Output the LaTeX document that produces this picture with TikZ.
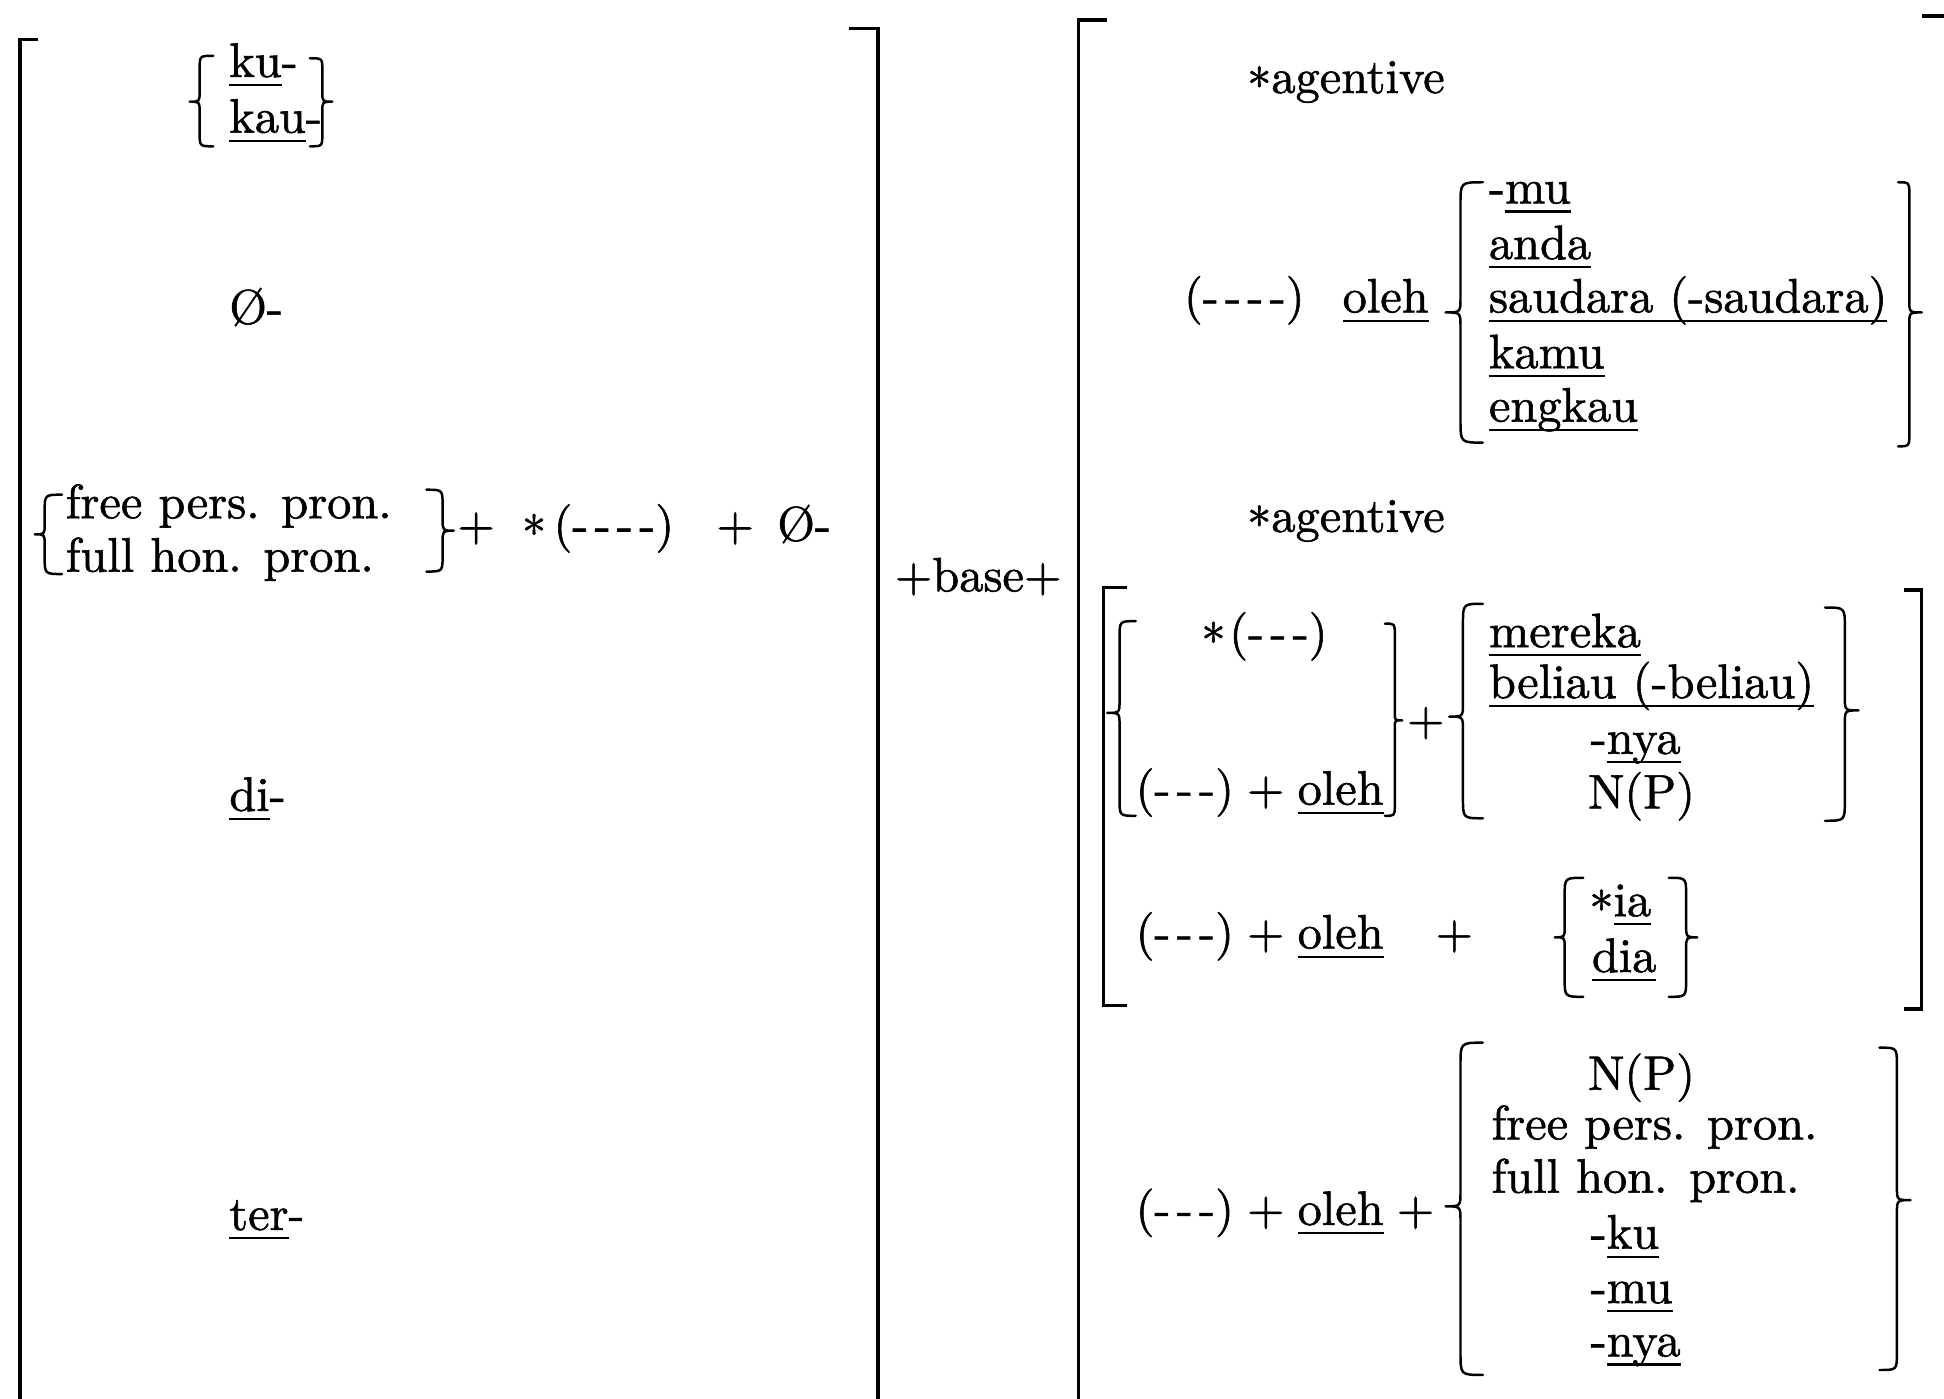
\documentclass[tikz,border=0pt]{standalone}
% Latin Modern at its 10pt design, scaled up and thickened a little like typewriter print
\font\dfont="[lmroman10-regular]:mapping=tex-text;embolden=1.2" at 39pt
\tikzset{
  every node/.style={inner sep=0pt, outer sep=0pt, font=\dfont},
  txt/.style={anchor=base west},
  ctr/.style={anchor=base},
  bar/.style={line width=2.8pt, line cap=butt, line join=miter},
  brc/.style={line width=2pt, line cap=round, line join=round},
}
% underline sitting just below the baseline, crossing descenders
\newcommand\undl[1]{\setbox0\hbox{#1}\rlap{\rule[-0.19em]{\wd0}{1.7pt}}\box0}
% a spaced hyphen for the (----) blanks
\newcommand\hy{-\kern5pt}
% the typewriter asterisk sits lower than the book one
\newcommand\astk{\raisebox{-0.2em}{*}}
% plus sign with tight spacing
\newcommand\pls{\hspace{0.27em}+\hspace{0.27em}}
% left curly brace: x of stem, top y, bottom y, tip y, hook size, tip depth
\newcommand\bracel[6]{%
  \draw[brc] ({#1+#5},#2) .. controls (#1,#2) .. (#1,{#2+#5})
    -- (#1,{#4-#6}) .. controls (#1,#4) .. ({#1-#6},#4)
    .. controls (#1,#4) .. (#1,{#4+#6})
    -- (#1,{#3-#5}) .. controls (#1,#3) .. ({#1+#5},#3);}
% right curly brace, same arguments
\newcommand\bracer[6]{%
  \draw[brc] ({#1-#5},#2) .. controls (#1,#2) .. (#1,{#2+#5})
    -- (#1,{#4-#6}) .. controls (#1,#4) .. ({#1+#6},#4)
    .. controls (#1,#4) .. (#1,{#4+#6})
    -- (#1,{#3-#5}) .. controls (#1,#3) .. ({#1-#5},#3);}
\begin{document}
\begin{tikzpicture}[x=1pt, y=-1pt]
\fill[white] (0,0) rectangle (1568,1128);
\useasboundingbox (0,0) rectangle (1568,1128);

% ---------- prefix column ----------
\draw[bar] (31,32) -- (16,32) -- (16,1140);
\draw[bar] (685,23) -- (708,23) -- (708,1140);

\bracel{161}{45}{118}{82}{11}{8}
\node[txt] (ku) at (185,62) {\undl{ku}-};
\node[txt] (kau) at (185,107) {\undl{kau}-};
\bracer{260}{47}{118}{82}{10}{8}

\node[txt] (zeroA) at (185,261) {Ø-};

\bracel{36}{399}{463}{431}{14}{8}
\node[txt] (fppA) at (53,418) {free pers.\hspace{0.45em}pron.};
\node[txt] (fhpA) at (53,461) {full hon.\hspace{0.45em}pron.};
\bracer{357}{395}{461}{428}{13}{9}
\node[ctr] (plA) at (384,436) {+};
\node[txt] (blankA) at (421,436) {\astk\kern6pt(\hy\hy\hy-)};
\node[ctr] (plB) at (593,436) {+};
\node[txt] (zeroB) at (627,436) {Ø-};

\node[txt] (di) at (185,654) {\undl{di}-};
\node[txt] (ter) at (185,992) {\undl{ter}-};

% ---------- base ----------
\node[ctr] (base) at (789,477) {+base+};

% ---------- agentive column ----------
\draw[bar] (893,16) -- (870,16) -- (870,1140);
\draw[bar] (1550,13) -- (1580,13) -- (1580,1140);

\node[txt] (agA) at (1006,75) {\astk agentive};
\node[txt] (blankB) at (955,252) {(\hy\hy\hy-)};
\node[txt] (olehA) at (1083,252) {\undl{oleh}};
\bracel{1178}{147}{357}{252}{18}{12}
\node[txt] (mu) at (1201,164) {-\undl{mu}};
\node[txt] (anda) at (1201,209) {\undl{anda}};
\node[txt] (saudara) at (1201,252) {\undl{saudara (-saudara)}};
\node[txt] (kamu) at (1201,297) {\undl{kamu}};
\node[txt] (engkau) at (1201,340) {\undl{engkau}};
\bracer{1540}{147}{360}{252}{9}{10}

\node[txt] (agB) at (1006,429) {\astk agentive};

% inner bracket
\draw[bar] (909,474) -- (890,474) -- (890,811) -- (909,811);
\draw[bar] (1536,476) -- (1550,476) -- (1550,814) -- (1536,814);

\bracel{903}{501}{658}{575}{13}{10}
\node[txt] (blankC) at (969,523) {\astk\kern3pt(\hy\hy-)};
\node[txt] (olehB) at (916,649) {(\hy\hy-)\pls\undl{oleh}};
\bracer{1125}{503}{658}{581}{8}{6}
\node[ctr] (plC) at (1150,593) {+};
\bracel{1180}{487}{660}{578}{16}{11}
\node[txt] (mereka) at (1201,522) {\undl{mereka}};
\node[txt] (beliau) at (1201,563) {\undl{beliau (-beliau)}};
\node[txt] (nyaA) at (1283,608) {-\undl{nya}};
\node[txt] (npA) at (1281,652) {N(P)};
\bracer{1488}{490}{662}{573}{16}{11}

\node[txt] (olehC) at (916,765) {(\hy\hy-)\pls\undl{oleh}};
\node[ctr] (plD) at (1173,765) {+};
\bracel{1262}{708}{804}{756}{15}{8}
\node[txt] (ia) at (1282,739) {\astk\undl{ia}};
\node[txt] (dia) at (1284,784) {\undl{dia}};
\bracer{1360}{708}{804}{756}{14}{9}

% last alternative
\node[txt] (olehD) at (916,988) {(\hy\hy-)\pls\undl{oleh}\pls};
\bracel{1178}{841}{1109}{973}{18}{12}
\node[txt] (npB) at (1281,879) {N(P)};
\node[txt] (fppB) at (1203,919) {free pers.\hspace{0.45em}pron.};
\node[txt] (fhpB) at (1203,962) {full hon.\hspace{0.45em}pron.};
\node[txt] (kuB) at (1283,1007) {-\undl{ku}};
\node[txt] (muB) at (1283,1051) {-\undl{mu}};
\node[txt] (nyaB) at (1283,1094) {-\undl{nya}};
\bracer{1530}{845}{1105}{968}{14}{11}
\end{tikzpicture}
\end{document}
